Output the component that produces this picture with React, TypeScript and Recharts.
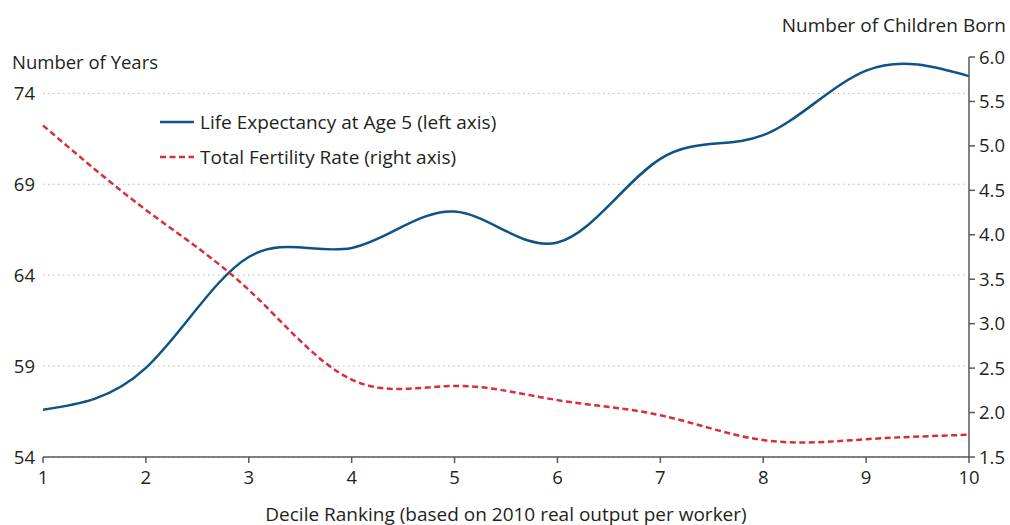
import { LineChart, Line, XAxis, YAxis, CartesianGrid } from 'recharts'

const deciles = [1, 2, 3, 4, 5, 6, 7, 8, 9, 10]
const lifeExpectancy = [56.6, 58.9, 65.0, 65.5, 67.5, 65.8, 70.4, 71.7, 75.25, 74.95]
const fertilityRate = [5.23, 4.28, 3.38, 2.37, 2.3, 2.14, 1.97, 1.69, 1.7, 1.75]
const leftTicks = [54, 59, 64, 69, 74]
const rightTicks = [1.5, 2.0, 2.5, 3.0, 3.5, 4.0, 4.5, 5.0, 5.5, 6.0]

const FONT = '"Open Sans", sans-serif'
const TEXT = '#231f20'
const AXIS = '#58595b'
const BLUE = '#0f5386'
const RED = '#d62f3a'

const data = deciles.map((d, i) => ({
  decile: d,
  life: lifeExpectancy[i],
  fertility: fertilityRate[i],
}))

const legendItems = [
  { label: 'Life Expectancy at Age 5 (left axis)', color: BLUE, dash: undefined, width: 2.5 },
  { label: 'Total Fertility Rate (right axis)', color: RED, dash: '6 3.5', width: 2.5 },
]

function LegendBox() {
  return (
    <div style={{ position: 'absolute', left: 160, top: 104, fontFamily: FONT, fontSize: 19, color: TEXT }}>
      {legendItems.map((it) => (
        <div key={it.label} style={{ display: 'flex', alignItems: 'center', height: 35 }}>
          <svg width={34} height={10} style={{ marginRight: 6 }}>
            <line x1={0} y1={5} x2={34} y2={5} stroke={it.color} strokeWidth={it.width} strokeDasharray={it.dash} />
          </svg>
          <span>{it.label}</span>
        </div>
      ))}
    </div>
  )
}

export default function App() {
  const title = { position: 'absolute' as const, fontFamily: FONT, color: TEXT, whiteSpace: 'nowrap' as const }
  return (
    <div style={{ position: 'absolute', left: 0, top: 0, width: 1010, height: 525, background: '#fff' }}>
      <LineChart width={1010} height={525} data={data} margin={{ top: 57, right: 0, left: 0, bottom: 0 }}>
        <CartesianGrid
          yAxisId="left"
          vertical={false}
          horizontalValues={leftTicks}
          stroke="#b5b5b5"
          strokeDasharray="1.5 3.5"
        />
        <XAxis
          dataKey="decile"
          type="number"
          domain={[1, 10]}
          ticks={deciles}
          height={68}
          stroke={AXIS}
          strokeWidth={1.5}
          tickSize={6}
          tickMargin={8}
          tick={{ fill: TEXT, fontSize: 18.5, fontFamily: FONT }}
        />
        <YAxis
          yAxisId="left"
          domain={[54, 76]}
          ticks={leftTicks}
          width={43}
          axisLine={false}
          tickLine={false}
          tick={{ fill: TEXT, fontSize: 18.5, fontFamily: FONT }}
        />
        <YAxis
          yAxisId="right"
          orientation="right"
          domain={[1.5, 6]}
          ticks={rightTicks}
          width={41}
          stroke={AXIS}
          strokeWidth={1.5}
          tickSize={6}
          tickMargin={4}
          tickFormatter={(v: number) => v.toFixed(1)}
          tick={{ fill: TEXT, fontSize: 18.5, fontFamily: FONT }}
        />
        <Line
          yAxisId="left"
          type="natural"
          dataKey="life"
          stroke={BLUE}
          strokeWidth={2.5}
          dot={false}
          isAnimationActive={false}
        />
        <Line
          yAxisId="right"
          type="natural"
          dataKey="fertility"
          stroke={RED}
          strokeWidth={2.5}
          strokeDasharray="6 3.5"
          dot={false}
          isAnimationActive={false}
        />
      </LineChart>
      <LegendBox />
      <div style={{ ...title, left: 12, top: 49, fontSize: 18.5 }}>Number of Years</div>
      <div style={{ ...title, right: 4, top: 12, fontSize: 19 }}>Number of Children Born</div>
      <div style={{ ...title, left: 0, width: 1012, textAlign: 'center', top: 501, fontSize: 19 }}>
        Decile Ranking (based on 2010 real output per worker)
      </div>
    </div>
  )
}
